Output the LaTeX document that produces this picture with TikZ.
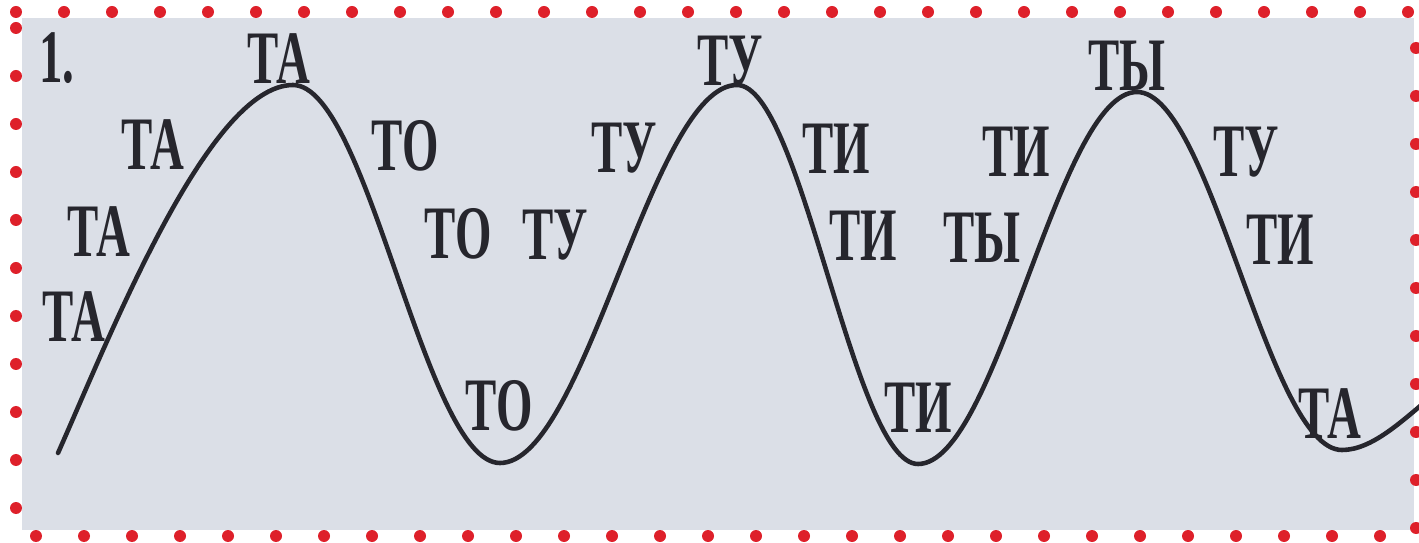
\documentclass[tikz,border=0pt]{standalone}
\usepackage{fontspec}
\usepackage{tikz}
\newfontfamily\sylfont[FakeStretch=0.62]{Liberation Serif Bold}
\definecolor{paper}{RGB}{219,223,231}
\definecolor{ink}{RGB}{38,38,45}
\definecolor{dotred}{RGB}{222,32,42}

\begin{document}
\begin{tikzpicture}[
  x=0.02cm, y=-0.02cm,
  syl/.style={font=\sylfont\fontsize{43}{43}\selectfont, text=ink, inner sep=0pt},
  reddot/.style={fill=dotred},
  wave/.style={draw=ink, line width=2.6pt, line cap=round}
]
  \useasboundingbox (0,0) rectangle (1419,543);
  \clip (0,0) rectangle (1419,543);

  % Page
  \fill[paper] (22,18) rectangle (1414,530);

  % Dotted frame
  \foreach \i in {0,...,29} {
    \fill[reddot] (16+48*\i,12) circle (6);
  }
  \foreach \i in {0,...,28} {
    \fill[reddot] (36+48*\i,536) circle (6);
  }
  \foreach \i in {0,...,10} {
    \fill[reddot] (16,28+48*\i) circle (6);
    \fill[reddot] (1416,48+48*\i) circle (6);
  }

  % Wave
  \coordinate (w0) at (58,453);
  \coordinate (p1) at (293,85);
  \coordinate (v1) at (500,463);
  \coordinate (p2) at (737,85);
  \coordinate (v2) at (918,464);
  \coordinate (p3) at (1137,92);
  \coordinate (v3) at (1342,450);
  \coordinate (w1) at (1432,396);
  \draw[wave] (w0) .. controls +(50,-112) and +(-85,0) .. (p1)
    .. controls +(75,0) and +(-75,0) .. (v1)
    .. controls +(85,0) and +(-85,0) .. (p2)
    .. controls +(65,0) and +(-65,0) .. (v2)
    .. controls +(79,0) and +(-79,0) .. (p3)
    .. controls +(74,0) and +(-74,0) .. (v3)
    .. controls +(30,0) and +(-30,25) .. (w1);

  % Syllables
  \node[syl] (num) at (57,58) {1.};
  \foreach \n/\x/\y/\t in {
      ta1/74/317/ТА, ta2/99/232/ТА, ta3/153/145/ТА, ta4/279/59/ТА,
      to1/405/146/ТО, to2/458/234/ТО, to3/499/406/ТО,
      tu1/555/235/ТУ, tu2/624/148/ТУ, tu3/730/61/ТУ,
      ti1/836/149/ТИ, ti2/863/236/ТИ, ti3/918/408/ТИ,
      ty1/982/238/ТЫ, ti4/1016/152/ТИ, ty2/1127/66/ТЫ,
      tu4/1246/152/ТУ, ti5/1280/240/ТИ, ta5/1330/414/ТА} {
    \node[syl] (\n) at (\x,\y) {\t};
  }
\end{tikzpicture}
\end{document}
